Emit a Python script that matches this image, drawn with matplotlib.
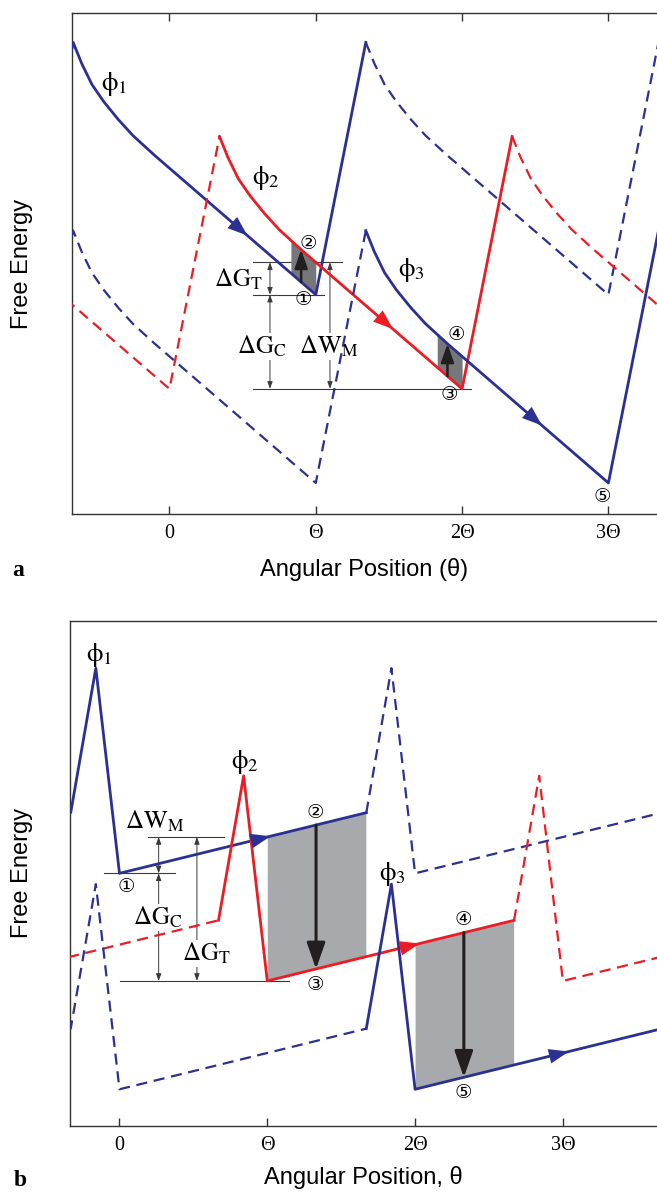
import numpy as np
import matplotlib
matplotlib.use("Agg")
import matplotlib.pyplot as plt

plt.rcParams['mathtext.fontset'] = 'stix'

BLUE = '#2b3192'
RED = '#ec1c24'
INK = '#231f20'
RULE = '#3a3a3a'
SERIF = ['Liberation Serif', 'DejaVu Serif']
SANS = ['Liberation Sans', 'DejaVu Sans']
CIRC = ['DejaVu Serif', 'DejaVu Sans', 'Noto Sans CJK JP']

# x in units of the step angle Theta, energies in arbitrary units
TICKS = [0, 1, 2, 3]
TICK_LABELS = ['0', 'Θ', '2Θ', '3Θ']
NAMES = [r'$\mathrm{\phi}_1$', r'$\mathrm{\phi}_2$', r'$\mathrm{\phi}_3$']
COLORS = [BLUE, RED, BLUE]
CIRCLED = ['①', '②', '③', '④', '⑤']

# --- panel a: one period of each potential, measured from its minimum
A_DX = [0.0, 0.342, 0.40, 0.47, 0.55, 0.65, 0.75, 0.90, 2.0]
A_DE = [0.0, 25.2, 23.1, 21.0, 19.3, 17.5, 15.9, 13.9, 0.0]
A_MIN_X = [1.0, 0.0, 1.0]
A_MIN_E = [21.9, 12.5, 3.1]
A_SOLID = [(-9, 1.342), (0.342, 2.342), (1.342, 9)]
A_SHADE = [(0.83, 1.0), (1.83, 2.0)]
A_PUSH_X = [0.90, 1.90]
A_DIR_X = [0.533, 1.528, 2.546]
A_NAME_XY = [(-0.379, 42.96), (0.66, 33.6), (1.654, 24.4)]
A_CIRC_XY = [(0.915, 21.4), (0.952, 27.0), (1.915, 11.9), (1.958, 17.9), (2.961, 1.73)]

# --- panel b
B_DX = [0.0, 1.67, 1.84, 2.0]
B_DE = [0.0, 6.0, 20.3, 0.0]
B_MIN_X = [0.0, 1.0, 0.0]
B_MIN_E = [25.0, 14.35, 3.63]
B_SOLID = [(-9, 1.67), (0.67, 2.67), (1.67, 9)]
B_SHADE = [(1.0, 1.667), (2.0, 2.667)]
B_PUSH_X = [1.33, 2.33]
B_DIR_X = [1.022, 2.031, 3.041]
B_NAME_XY = [(-0.139, 46.6), (0.846, 35.97), (1.85, 24.9)]
B_CIRC_XY = [(0.043, 23.6), (1.327, 31.0), (1.327, 13.95), (2.329, 20.4), (2.329, 3.24)]


def build(dx, de, x0, e0):
    xs, es = [], []
    for n in range(-2, 3):
        for i in range(len(dx)):
            if n > -2 and i == 0:
                continue
            xs.append(x0 + 2 * n + dx[i])
            es.append(e0 + de[i])
    return np.array(xs), np.array(es)


def draw_potentials(ax, dx, de, min_x, min_e, solid):
    curves = []
    tol = 1e-6
    for k in range(3):
        x, e = build(dx, de, min_x[k], min_e[k])
        lo, hi = solid[k]
        on = (x >= lo - tol) & (x <= hi + tol)
        ax.plot(x[on], e[on], color=COLORS[k], lw=2.0, zorder=3)
        for part in (x <= lo + tol, x >= hi - tol):
            if part.sum() > 1:
                ax.plot(x[part], e[part], color=COLORS[k], lw=1.6,
                        ls=(0, (5, 3)), zorder=3)
        curves.append((x, e))
    return curves


def at(curve, x):
    return np.interp(x, curve[0], curve[1])


def shade(ax, lower, upper, a, b, color):
    xs = np.concatenate([[a, b], lower[0][(lower[0] > a) & (lower[0] < b)],
                         upper[0][(upper[0] > a) & (upper[0] < b)]])
    xs = np.unique(xs)
    ax.fill_between(xs, at(lower, xs), at(upper, xs), color=color, lw=0, zorder=2)


def heading(ax, curve, x, color):
    x0 = x - 0.08
    ax.annotate('', xy=(x, at(curve, x)), xytext=(x0, at(curve, x0)),
                arrowprops=dict(arrowstyle='-|>,head_length=0.9,head_width=0.33',
                                color=color, lw=0.01, mutation_scale=16,
                                shrinkA=0, shrinkB=0), zorder=4)


def push(ax, x, e0, e1, scale, width):
    ax.annotate('', xy=(x, e1), xytext=(x, e0),
                arrowprops=dict(arrowstyle='-|>,head_length=0.8,head_width=0.28',
                                color=INK, lw=width, mutation_scale=scale,
                                shrinkA=0, shrinkB=0), zorder=4)


def dim(ax, x, e0, e1):
    ax.annotate('', xy=(x, e1), xytext=(x, e0),
                arrowprops=dict(arrowstyle='<|-|>,head_length=0.6,head_width=0.22',
                                color=RULE, lw=0.7, mutation_scale=7,
                                shrinkA=0, shrinkB=0), zorder=1)


def label(ax, x, e, s):
    ax.text(x, e, s, fontsize=18, ha='center', va='center', zorder=2,
            bbox=dict(fc='white', ec='none', pad=0.5))


def style(ax, xlim, xlabel, top_ticks):
    ax.set_xlim(*xlim)
    ax.set_ylim(0, 50)
    ax.set_yticks([])
    ax.set_xticks(TICKS, TICK_LABELS, family=SERIF)
    ax.tick_params(axis='x', direction='in', length=6, width=1, labelsize=14.5,
                   pad=7, top=top_ticks, color='#333333')
    ax.spines['right'].set_visible(False)
    for s in ('left', 'top', 'bottom'):
        ax.spines[s].set_color('#333333')
        ax.spines[s].set_linewidth(1.0)
    ax.set_xlabel(xlabel, fontsize=17, family=SANS)
    ax.set_ylabel('Free Energy', fontsize=17, family=SANS)


fig = plt.figure(figsize=(6.57, 11.92), dpi=100)
axa = fig.add_axes([0.1096, 0.5688, 0.8904, 0.4200])
axb = fig.add_axes([0.1065, 0.0554, 0.8935, 0.4239])

# ---------------- panel a ----------------
ca = draw_potentials(axa, A_DX, A_DE, A_MIN_X, A_MIN_E, A_SOLID)
for j, (a, b) in enumerate(A_SHADE):
    shade(axa, ca[j], ca[j + 1], a, b, '#76777a')
    push(axa, A_PUSH_X[j], at(ca[j], A_PUSH_X[j]), at(ca[j + 1], A_PUSH_X[j]), 14, 1.8)
for k in range(3):
    heading(axa, ca[k], A_DIR_X[k], COLORS[k])
    axa.text(*A_NAME_XY[k], NAMES[k], fontsize=19, ha='center', va='center')

top = at(ca[1], 1.0)
mid = at(ca[0], 1.0)
bot = at(ca[1], 2.0)
axa.plot([0.571, 1.177], [top, top], color=RULE, lw=0.8, zorder=1)
axa.plot([0.571, 1.056], [mid, mid], color=RULE, lw=0.8, zorder=1)
axa.plot([0.571, 2.06], [bot, bot], color=RULE, lw=0.8, zorder=1)
dim(axa, 0.687, mid, top)
dim(axa, 0.687, mid, bot)
dim(axa, 1.097, bot, top)
label(axa, 0.47, 23.4, r'$\Delta\mathrm{G}_\mathrm{T}$')
label(axa, 0.632, 16.7, r'$\Delta\mathrm{G}_\mathrm{C}$')
label(axa, 1.09, 16.7, r'$\Delta\mathrm{W}_\mathrm{M}$')
for s, (x, e) in zip(CIRCLED, A_CIRC_XY):
    axa.text(x, e, s, fontsize=14, family=CIRC, ha='center', va='center', zorder=5)

style(axa, (-0.666, 3.332), 'Angular Position (θ)', True)

# ---------------- panel b ----------------
cb = draw_potentials(axb, B_DX, B_DE, B_MIN_X, B_MIN_E, B_SOLID)
for j, (a, b) in enumerate(B_SHADE):
    shade(axb, cb[j + 1], cb[j], a, b, '#a7a9ac')
    push(axb, B_PUSH_X[j], at(cb[j], B_PUSH_X[j]), at(cb[j + 1], B_PUSH_X[j]), 20, 2.2)
for k in range(3):
    heading(axb, cb[k], B_DIR_X[k], COLORS[k])
    axb.text(*B_NAME_XY[k], NAMES[k], fontsize=19, ha='center', va='center')

top = at(cb[0], 1.0)
mid = at(cb[0], 0.0)
bot = at(cb[1], 1.0)
axb.plot([0.193, 0.706], [top, top], color=RULE, lw=0.8, zorder=1)
axb.plot([-0.105, 0.374], [mid, mid], color=RULE, lw=0.8, zorder=1)
axb.plot([0.003, 1.147], [bot, bot], color=RULE, lw=0.8, zorder=1)
dim(axb, 0.265, mid, top)
dim(axb, 0.265, mid, bot)
dim(axb, 0.524, bot, top)
label(axb, 0.24, 30.1, r'$\Delta\mathrm{W}_\mathrm{M}$')
label(axb, 0.26, 20.6, r'$\Delta\mathrm{G}_\mathrm{C}$')
label(axb, 0.585, 17.1, r'$\Delta\mathrm{G}_\mathrm{T}$')
for s, (x, e) in zip(CIRCLED, B_CIRC_XY):
    axb.text(x, e, s, fontsize=14, family=CIRC, ha='center', va='center', zorder=5)

style(axb, (-0.335, 3.637), 'Angular Position, θ', False)

# axis labels and panel letters placed as in the figure
axa.xaxis.set_label_coords(0.5, -(570 - 514) / 500.7)
axa.xaxis.label.set_va('center')
axb.xaxis.set_label_coords(0.5, -(1178 - 1126) / 505.3)
axb.xaxis.label.set_va('center')
axa.yaxis.set_label_coords((21.7 - 72) / 585, 0.5)
axa.yaxis.label.set_va('center')
axb.yaxis.set_label_coords((21.7 - 70) / 587, 0.5)
axb.yaxis.label.set_va('center')
fig.text(18 / 657, 1 - 570 / 1192, 'a', fontsize=17, fontweight='bold',
         family=SERIF, ha='center', va='center')
fig.text(20 / 657, 1 - 1180 / 1192, 'b', fontsize=17, fontweight='bold',
         family=SERIF, ha='center', va='center')

fig.savefig('out.png', dpi=100)
